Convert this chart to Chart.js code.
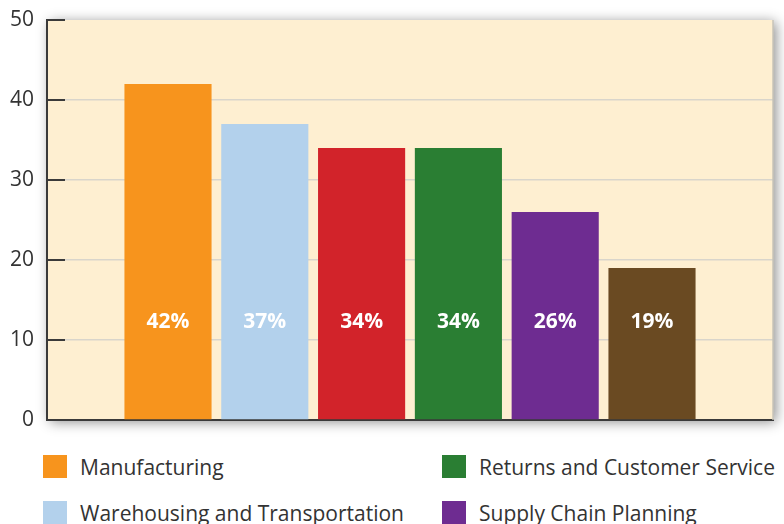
<!DOCTYPE html>
<html>
<head>
<meta charset="utf-8">
<script src="https://cdn.jsdelivr.net/npm/chart.js@4.4.1/dist/chart.umd.min.js"></script>
<style>
  html, body { margin: 0; padding: 0; background: #ffffff; width: 784px; height: 524px; overflow: hidden; }
  #wrap { position: relative; width: 784px; height: 524px; }
  #c { position: absolute; left: 0; top: 0; }
  .leg { position: absolute; display: flex; align-items: center; font-family: "Open Sans", sans-serif; font-size: 21px; color: #333333; white-space: nowrap; }
  .sw { width: 24px; height: 23px; margin-right: 13px; flex: none; }
</style>
</head>
<body>
<div id="wrap">
  <canvas id="c" width="784" height="440"></canvas>
  <div id="legend"></div>
</div>
<script>
// ---- data ----
const categories = ["Manufacturing", "Warehousing and Transportation", "Procurement", "Returns and Customer Service", "Supply Chain Planning", "Product Design"];
const values = [42, 37, 34, 34, 26, 19];
const valueLabels = ["42%", "37%", "34%", "34%", "26%", "19%"];
const colors = ["#F7941D", "#B3D1EC", "#D2232A", "#2A7E33", "#6E2C91", "#6A4A22"];
const yTicks = [0, 10, 20, 30, 40, 50];
const labelLevel = 12.3;

const datasets = categories.map((name, i) => ({
  label: name,
  data: [values[i]],
  backgroundColor: colors[i],
  borderWidth: 0
}));

const plotBg = {
  id: 'plotBg',
  beforeDraw(chart) {
    const { ctx, chartArea: a } = chart;
    ctx.save();
    ctx.shadowColor = 'rgba(0,0,0,0.45)';
    ctx.shadowBlur = 12;
    ctx.shadowOffsetX = 3;
    ctx.shadowOffsetY = 2;
    ctx.fillStyle = '#FEEFD1';
    ctx.fillRect(a.left, a.top, a.right - a.left, a.bottom - a.top);
    ctx.restore();
  },
  afterDraw(chart) {
    const { ctx, chartArea: a, scales } = chart;
    ctx.save();
    ctx.strokeStyle = '#c9c4b8';
    ctx.lineWidth = 1.5;
    ctx.beginPath();
    ctx.moveTo(a.right, a.top);
    ctx.lineTo(a.right, a.bottom);
    ctx.stroke();
    ctx.strokeStyle = '#3a3a3a';
    ctx.lineWidth = 2;
    yTicks.forEach(v => {
      if (v === 0) return;
      const y = scales.y.getPixelForValue(v);
      ctx.beginPath();
      ctx.moveTo(a.left, y);
      ctx.lineTo(a.left + 18, y);
      ctx.stroke();
    });
    ctx.fillStyle = '#ffffff';
    ctx.font = 'bold 21px "Open Sans", sans-serif';
    ctx.textAlign = 'center';
    ctx.textBaseline = 'middle';
    const ly = scales.y.getPixelForValue(labelLevel);
    chart.data.datasets.forEach((ds, i) => {
      const bar = chart.getDatasetMeta(i).data[0];
      ctx.fillText(valueLabels[i], bar.x, ly);
    });
    ctx.restore();
  }
};

new Chart(document.getElementById('c'), {
  type: 'bar',
  data: { labels: [''], datasets },
  options: {
    responsive: false,
    animation: false,
    layout: { padding: { top: 20, right: 11, bottom: 20, left: 0 } },
    plugins: { legend: { display: false }, tooltip: { enabled: false } },
    scales: {
      x: {
        ticks: { display: false },
        grid: { display: false, drawTicks: false },
        border: { display: true, color: '#3a3a3a', width: 2 },
        afterFit(s) { s.height = 0; s.paddingLeft = 0; s.paddingRight = 0; }
      },
      y: {
        min: 0, max: 50,
        afterBuildTicks(s) { s.ticks = yTicks.map(v => ({ value: v })); },
        ticks: { padding: 13, color: '#333333', font: { family: '"Open Sans", sans-serif', size: 21 } },
        grid: {
          drawTicks: false,
          color: ctx => (ctx.tick && (ctx.tick.value === 0 || ctx.tick.value === 50)) ? 'rgba(0,0,0,0)' : '#d9d5cb',
          lineWidth: 1.5
        },
        border: { display: true, color: '#3a3a3a', width: 2 },
        afterFit(s) { s.width = 47; s.paddingTop = 0; s.paddingBottom = 0; }
      }
    }
  },
  plugins: [plotBg]
});

// ---- HTML legend: column-major, 3 rows ----
const legend = document.getElementById('legend');
const colX = [43, 442];
const rowY = [455, 501, 547];
categories.forEach((name, i) => {
  const col = Math.floor(i / 3), row = i % 3;
  const d = document.createElement('div');
  d.className = 'leg';
  d.style.left = colX[col] + 'px';
  d.style.top = (rowY[row] - 1) + 'px';
  d.style.height = '25px';
  const sw = document.createElement('span');
  sw.className = 'sw';
  sw.style.background = colors[i];
  const t = document.createElement('span');
  t.textContent = name;
  d.appendChild(sw);
  d.appendChild(t);
  legend.appendChild(d);
});
</script>
</body>
</html>
